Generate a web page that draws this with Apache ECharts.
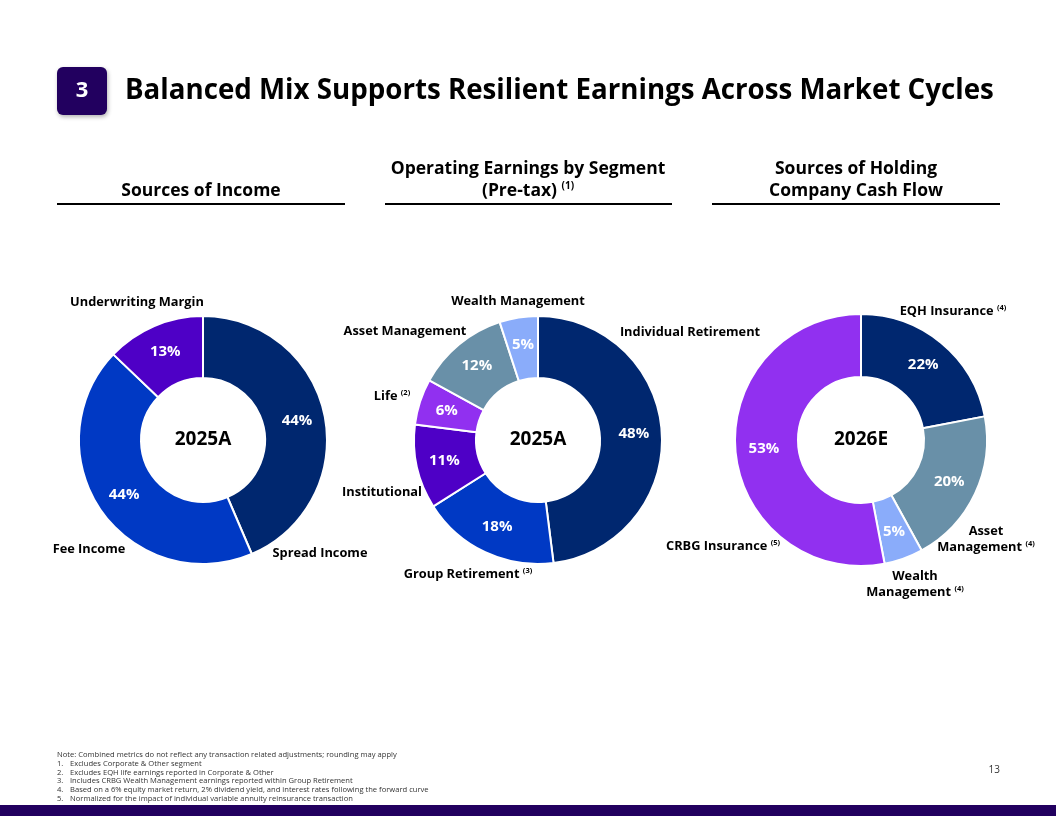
<!DOCTYPE html>
<html><head><meta charset="utf-8">
<script src="https://cdn.jsdelivr.net/npm/echarts@6/dist/echarts.min.js"></script>
<style>html,body{margin:0;padding:0;background:#fff}#c{width:1056px;height:816px}</style>
</head><body><div id="c"></div>
<script>
// ---- data ----
const incomeCats = ['Spread Income', 'Fee Income', 'Underwriting Margin'];
const incomeVals = [44, 44, 13];
const segmentCats = ['Individual Retirement', 'Group Retirement', 'Institutional', 'Life', 'Asset Management', 'Wealth Management'];
const segmentVals = [48, 18, 11, 6, 12, 5];
const cashCats = ['EQH Insurance', 'Asset Management', 'Wealth Management', 'CRBG Insurance'];
const cashVals = [22, 20, 5, 53];
const centerLabels = ['2025A', '2025A', '2026E'];
const footnotes = [
  'Note: Combined metrics do not reflect any transaction related adjustments; rounding may apply',
  'Excludes Corporate & Other segment',
  'Excludes EQH life earnings reported in Corporate & Other',
  'Includes CRBG Wealth Management earnings reported within Group Retirement',
  'Based on a 6% equity market return, 2% dividend yield, and interest rates following the forward curve',
  'Normalized for the impact of individual variable annuity reinsurance transaction'
];

const NAVY = '#00276F', BLUE = '#0039C4', PURPLE = '#4E00C6', VIOLET = '#9130F0', SLATE = '#6990A8', LIGHT = '#8AACFA';
const incomeColors = [NAVY, BLUE, PURPLE];
const segmentColors = [NAVY, BLUE, PURPLE, VIOLET, SLATE, LIGHT];
const cashColors = [NAVY, SLATE, LIGHT, VIOLET];

const FONT = '"Open Sans", "Noto Sans", sans-serif';

function pie(cats, vals, colors, center, radius) {
  return {
    type: 'pie', center: center, radius: radius, startAngle: 90, clockwise: true,
    silent: true, animation: false,
    itemStyle: { borderColor: '#fff', borderWidth: 2 },
    label: { show: true, position: 'inside', formatter: '{c}%', color: '#fff', fontFamily: FONT, fontWeight: 'bold', fontSize: 15 },
    labelLine: { show: false },
    data: cats.map((n, i) => ({ name: n, value: vals[i], itemStyle: { color: colors[i] } }))
  };
}

function txt(x, y, text, opt) {
  opt = opt || {};
  return {
    type: 'text', x: x, y: y, silent: true,
    style: Object.assign({
      text: text, fill: '#000', font: 'bold 12.8px ' + FONT, align: 'center', verticalAlign: 'middle',
      rich: { s: { fontSize: 7.5, fontWeight: 'bold', fontFamily: FONT, padding: [0, 0, 7, 0], fill: '#000' } }
    }, opt)
  };
}
function line(x1, x2, y) {
  return { type: 'line', silent: true, shape: { x1: x1, y1: y, x2: x2, y2: y }, style: { stroke: '#000', lineWidth: 2 } };
}

const HF = 'bold 17.5px ' + FONT;
const graphics = [
  { type: 'rect', silent: true, shape: { x: 57, y: 67, width: 50, height: 48, r: 6 }, style: { fill: '#22005F', shadowBlur: 4, shadowColor: 'rgba(0,0,0,0.3)', shadowOffsetX: 1, shadowOffsetY: 2 } },
  txt(82, 91, '3', { fill: '#fff', font: 'bold 22px ' + FONT }),
  txt(125, 91, 'Balanced Mix Supports Resilient Earnings Across Market Cycles', { align: 'left', font: 'bold 27.7px ' + FONT }),
  txt(201, 191, 'Sources of Income', { font: HF }),
  txt(528, 169, 'Operating Earnings by Segment', { font: HF }),
  txt(528, 191, '(Pre-tax) {s|(1)}', { font: HF, rich: { s: { fontSize: 10, fontWeight: 'bold', fontFamily: FONT, padding: [0, 0, 9, 0] } } }),
  txt(856, 169, 'Sources of Holding', { font: HF }),
  txt(856, 191, 'Company Cash Flow', { font: HF }),
  line(57, 345, 204), line(385, 672, 204), line(712, 1000, 204),
  // chart 1 labels
  txt(137, 302, incomeCats[2]),
  txt(89, 549, incomeCats[1]),
  txt(320, 553, incomeCats[0]),
  // chart 2 labels
  txt(518, 301, segmentCats[5]),
  txt(405, 331, segmentCats[4]),
  txt(392, 396, segmentCats[3] + ' {s|(2)}'),
  txt(382, 492, segmentCats[2]),
  txt(468, 574, segmentCats[1] + ' {s|(3)}'),
  txt(690, 332, segmentCats[0]),
  // chart 3 labels
  txt(953, 311, cashCats[0] + ' {s|(4)}'),
  txt(986, 531, 'Asset'),
  txt(986, 547, 'Management {s|(4)}'),
  txt(915, 576, 'Wealth'),
  txt(915, 592, 'Management {s|(4)}'),
  txt(723, 546, cashCats[3] + ' {s|(5)}'),
  // center labels
  txt(203, 440, centerLabels[0], { font: 'bold 19px ' + FONT }),
  txt(538, 440, centerLabels[1], { font: 'bold 19px ' + FONT }),
  txt(861, 440, centerLabels[2], { font: 'bold 19px ' + FONT }),
  // page number
  txt(1000, 770, '13', { align: 'right', font: '10px ' + FONT, fill: '#333' }),
  { type: 'rect', silent: true, shape: { x: 0, y: 805, width: 1056, height: 11 }, style: { fill: '#22005F' } }
];
footnotes.forEach((f, i) => {
  const y = 755 + i * 8.7;
  const F = '7.6px ' + FONT;
  if (i === 0) {
    graphics.push(txt(57, y, f, { align: 'left', font: F, fill: '#333' }));
  } else {
    graphics.push(txt(57, y, i + '.', { align: 'left', font: F, fill: '#333' }));
    graphics.push(txt(70, y, f, { align: 'left', font: F, fill: '#333' }));
  }
});

const chart = echarts.init(document.getElementById('c'));
chart.setOption({
  animation: false,
  backgroundColor: '#fff',
  series: [
    pie(incomeCats, incomeVals, incomeColors, [203, 440], [62, 124]),
    pie(segmentCats, segmentVals, segmentColors, [538, 440], [62, 124]),
    pie(cashCats, cashVals, cashColors, [861, 440], [63, 126])
  ],
  graphic: graphics
});
</script></body></html>
